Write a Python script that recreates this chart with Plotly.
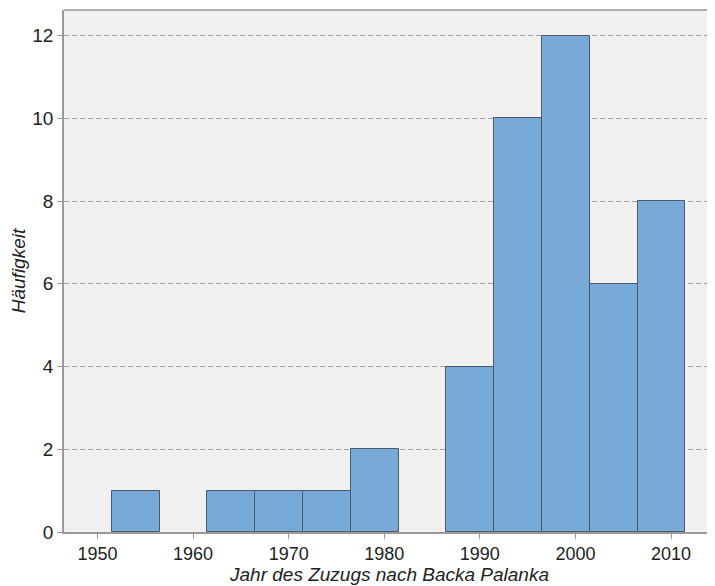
"""SPSS-style histogram: year of moving to Backa Palanka."""

import plotly.graph_objects as go

# bin centres (5-year bins, 1951.5 .. 2011.5) and counts
bin_centers = [1954, 1964, 1969, 1974, 1979, 1989, 1994, 1999, 2004, 2009]
counts = [1, 1, 1, 1, 2, 4, 10, 12, 6, 8]
bin_width = 5

x_ticks = [1950, 1960, 1970, 1980, 1990, 2000, 2010]
y_ticks = [0, 2, 4, 6, 8, 10, 12]

axis_color = "#999999"
font_family = "Liberation Sans, Arial, sans-serif"

fig = go.Figure()
fig.add_trace(
    go.Bar(
        x=bin_centers,
        y=counts,
        width=bin_width,
        marker=dict(color="#79A9D6", line=dict(color="#4A5A6A", width=1)),
        showlegend=False,
    )
)

# top frame line
fig.add_shape(
    type="line", xref="paper", yref="paper",
    x0=0, x1=1, y0=1, y1=1,
    line=dict(color=axis_color, width=1.5),
)

# page body has an 8px margin, so the figure is a bit smaller than the window
fig.update_layout(
    width=707,
    height=578,
    margin=dict(l=56, r=0, t=2, b=54),
    paper_bgcolor="white",
    plot_bgcolor="#F0F0F0",
    font=dict(family=font_family, size=19, color="#222222"),
    bargap=0,
)
fig.update_xaxes(
    range=[1946.5, 2014.6],
    tickvals=x_ticks,
    ticks="outside",
    ticklen=5,
    tickcolor=axis_color,
    showgrid=False,
    zeroline=False,
    showline=True,
    linecolor=axis_color,
    linewidth=1.5,
    tickfont=dict(size=18),
    title=dict(
        text="<i>Jahr des Zuzugs nach Backa Palanka</i>",
        font=dict(size=19),
        standoff=2,
    ),
)
fig.update_yaxes(
    range=[0, 12.62],
    tickvals=y_ticks,
    ticks="outside",
    ticklen=5,
    tickcolor=axis_color,
    showgrid=True,
    gridcolor="#A0A0A0",
    griddash="5px,3px",
    gridwidth=1,
    zeroline=False,
    showline=True,
    linecolor=axis_color,
    linewidth=1.5,
    tickfont=dict(size=19),
    title=dict(text="<i>Häufigkeit</i>", font=dict(size=19), standoff=12),
)

fig.write_html("out.html")
